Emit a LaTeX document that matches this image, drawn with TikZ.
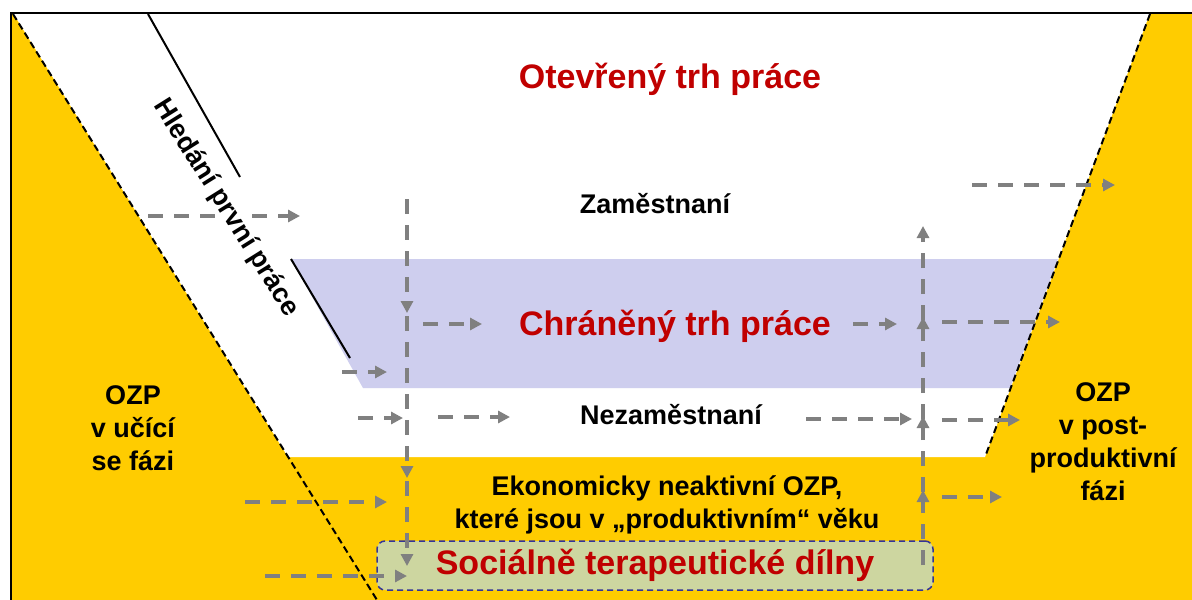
\documentclass[tikz,border=0pt]{standalone}
\usepackage{fontspec}
\setmainfont{Liberation Sans}
\usetikzlibrary{arrows.meta}
\definecolor{ozpyellow}{RGB}{255,204,0}
\definecolor{lav}{RGB}{206,206,238}
\definecolor{boxgreen}{RGB}{205,214,160}
\definecolor{boxnavy}{RGB}{51,51,153}
\definecolor{darkred}{RGB}{192,0,0}
\definecolor{arrgray}{RGB}{128,128,128}
\begin{document}
\begin{tikzpicture}[x=1pt,y=-1pt,
  flow/.style={draw=arrgray, line width=4pt, dash pattern=on 15pt off 11pt,
    -{Triangle[length=12pt,width=12pt]}},
  lbl/.style={font=\fontsize{27}{33}\selectfont\bfseries, align=center, inner sep=0pt},
  big/.style={font=\fontsize{34}{40}\selectfont\bfseries, text=darkred, inner sep=0pt},
  border/.style={draw=black, line width=2pt, dash pattern=on 7pt off 4pt},
  edge/.style={draw=black, line width=2pt}]
\useasboundingbox (0,0) rectangle (1192,600);
\fill[white] (0,0) rectangle (1192,600);
% yellow frame area
\fill[ozpyellow] (11,13) rectangle (1192,600);
% white labour-market area
\fill[white] (13,13) -- (1150,13) -- (985,457) -- (288,457) -- cycle;
% protected market band
\fill[lav] (291,259) -- (1058,259) -- (1010,388) -- (363,388) -- cycle;
% dashed borders
\draw[border] (13,14) -- (377,600);
\draw[border] (1150,14) -- (985,457);
% solid guide lines
\draw[edge] (148,14) -- (240,177);
\draw[edge] (291,259) -- (350,358);
% frame
\draw[line width=2.5pt] (11,600) -- (11,13) -- (1192,13);

% texts
\node[big, anchor=base] (otevreny) at (670,88) {Otevřený trh práce};
\node[big, anchor=base] (chraneny) at (675,335) {Chráněný trh práce};
\node[lbl, anchor=base] (zam) at (655,213) {Zaměstnaní};
\node[lbl, anchor=base] (nezam) at (671,424) {Nezaměstnaní};
\node[lbl] (neakt) at (667,505) {Ekonomicky neaktivní OZP,\\které jsou v „produktivním“ věku};
\node[lbl] (ucici) at (133,428) {OZP\\v učící\\se fázi};
\node[lbl] (post) at (1103,442) {OZP\\v post-\\produktivní\\fázi};
\node[big, draw=boxnavy, line width=1.5pt, dash pattern=on 6pt off 4pt, fill=boxgreen,
  rounded corners=8pt, minimum width=556pt, minimum height=49pt] (dilny) at (655,565.5)
  {Sociálně terapeutické dílny};

% arrow coordinates
\coordinate (a1s) at (148,216);  \coordinate (a1e) at (300,216);
\coordinate (a2s) at (407,199);  \coordinate (a2e) at (407,313);
\coordinate (a3s) at (407,316);  \coordinate (a3e) at (407,478);
\coordinate (a4s) at (407,481);  \coordinate (a4e) at (407,566);
\coordinate (a5s) at (423,324);  \coordinate (a5e) at (482,324);
\coordinate (a6s) at (342,372);  \coordinate (a6e) at (387,372);
\coordinate (a7s) at (358,418);  \coordinate (a7e) at (403,418);
\coordinate (a8s) at (438,417);  \coordinate (a8e) at (510,417);
\coordinate (a9s) at (806,419);  \coordinate (a9e) at (912,419);
\coordinate (a10s) at (853,324); \coordinate (a10e) at (897,324);
\coordinate (a11s) at (942,322); \coordinate (a11e) at (1060,322);
\coordinate (a12s) at (942,420); \coordinate (a12e) at (1020,420);
\coordinate (a13s) at (942,497); \coordinate (a13e) at (1002,497);
\coordinate (a14s) at (972,185); \coordinate (a14e) at (1115,185);
\coordinate (a15s) at (245,502); \coordinate (a15e) at (387,502);
\coordinate (a16s) at (265,576); \coordinate (a16e) at (407,576);
\coordinate (b1s) at (923,565);  \coordinate (b1e) at (923,490);
\coordinate (b2s) at (923,492);  \coordinate (b2e) at (923,416);
\coordinate (b3s) at (923,419);  \coordinate (b3e) at (923,317);
\coordinate (b4s) at (923,320);  \coordinate (b4e) at (923,226);

\foreach \a in {a1,a2,a3,a4,a5,a6,a7,a8,a9,a10,a11,a12,a13,a14,a15,a16,b1,b2,b3,b4}
  \draw[flow] (\a s) -- (\a e);

% rotated label over its own white ground (hides the arrow behind it)
\node[lbl, rotate=-58, fill=white] (hledani) at (226,208) {Hledání první práce};
\end{tikzpicture}
\end{document}
